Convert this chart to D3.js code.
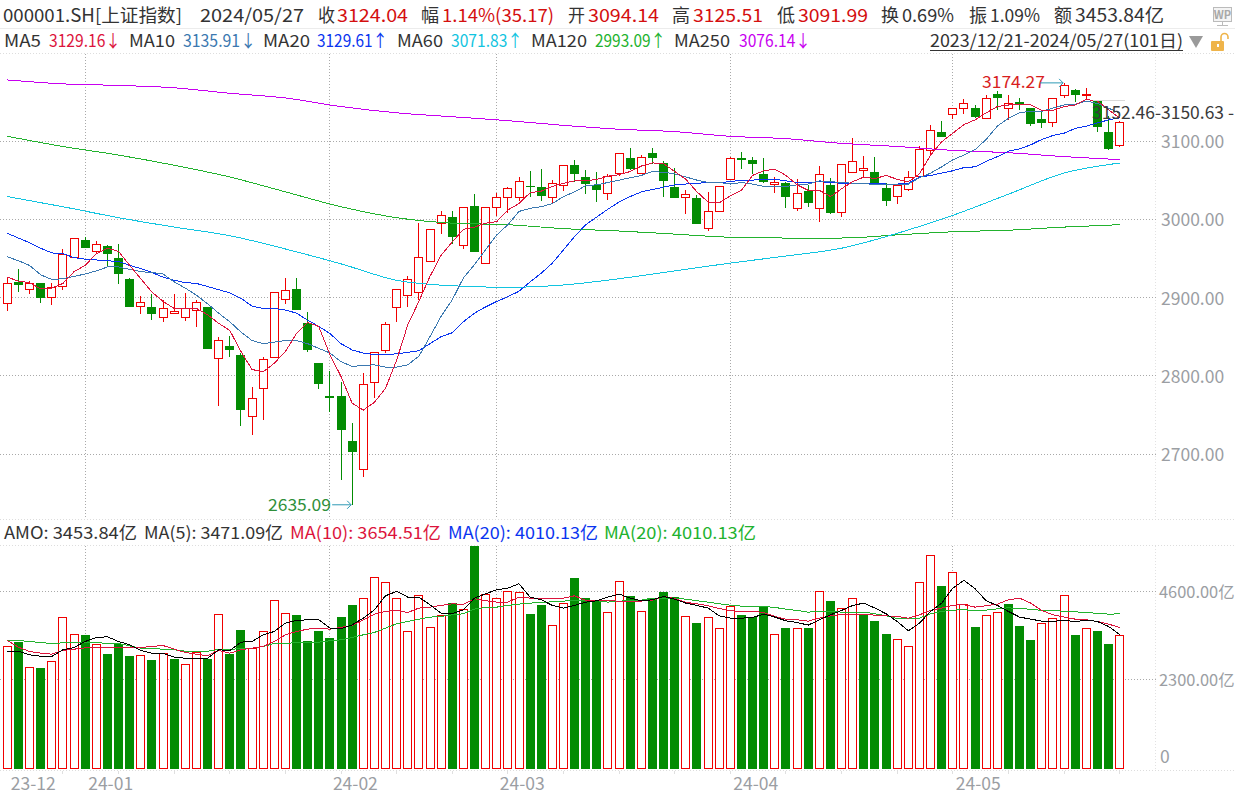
<!DOCTYPE html>
<html>
<head>
<meta charset="utf-8">
<script src="https://cdn.jsdelivr.net/npm/d3@7"></script>
<style>
html,body{margin:0;padding:0;background:#fff;overflow:hidden}
svg{display:block}
text{font-family:"Noto Sans CJK SC","Noto Sans",sans-serif}
</style>
</head>
<body>
<div id="canvas"></div>
<script>
// daily candles
var opens = [2894,2920,2911,2918,2901,2914,2952,2973,2959,2966,2950,2924,2889,2888,2875,2881,2875,2884,2888,2823,2838,2826,2748,2784,2824,2899,2911,2867,2816,2774,2774,2717,2681,2792,2833,2888,2904,2907,2947,2995,3003,2968,3017,2945,3015,3028,3028,3043,3041,3028,3044,3069,3054,3044,3033,3059,3078,3059,3085,3072,3041,3028,3027,2989,3010,3051,3078,3076,3058,3045,3046,3015,3036,3015,3044,3010,3061,3062,3060,3040,3030,3039,3056,3088,3112,3134,3142,3142,3130,3160,3141,3150,3142,3128,3124,3159,3165,3159,3151,3112,3094.14];
var highs = [2926,2936,2921,2918,2918,2962,2976,2977,2972,2967,2968,2925,2902,2904,2897,2904,2906,2897,2888,2849,2851,2829,2785,2824,2907,2925,2925,2881,2816,2806,2792,2740,2804,2830,2869,2911,2928,2995,2988,3011,3011,3016,3032,3016,3034,3041,3054,3062,3064,3050,3069,3076,3063,3060,3058,3085,3091,3082,3091,3074,3065,3037,3031,3035,3042,3079,3086,3079,3078,3054,3048,3051,3044,3068,3053,3071,3104,3081,3079,3046,3045,3062,3093,3121,3125,3142,3154,3146,3159,3164,3159,3155,3142,3139,3155,3174.27,3167,3168,3151,3132,3125.51];
var lows = [2883,2907,2904,2893,2891,2910,2951,2963,2955,2939,2917,2888,2879,2871,2869,2879,2870,2862,2834,2761,2824,2736,2724,2743,2823,2892,2884,2830,2783,2754,2667,2635.09,2671,2772,2829,2869,2888,2897,2945,2981,2969,2962,2958,2945,3004,3008,3023,3028,3023,3020,3036,3047,3032,3022,3025,3055,3063,3059,3071,3028,3027,3007,2994,2985,3010,3051,3064,3058,3046,3033,3014,3010,3016,2996,3007,3003,3059,3054,3045,3017,3019,3036,3056,3081,3105,3128,3135,3130,3130,3139,3127,3139,3119,3117,3118,3155,3150,3153,3112,3089,3091.99];
var closes = [2919,2916,2919,2899,2914,2955,2976,2963,2968,2956,2930,2888,2894,2879,2887,2883,2886,2894,2834,2846,2833,2756,2771,2821,2907,2910,2884,2832,2789,2772,2731,2703,2789,2830,2866,2911,2924,2952,2988,3005,2977,3016,2958,3016,3028,3040,3049,3042,3029,3046,3069,3057,3045,3038,3055,3085,3064,3080,3078,3049,3027,3032,2994,3011,3042,3078,3076,3071,3048,3048,3028,3034,3021,3058,3008,3071,3075,3065,3045,3023,3044,3054,3090,3114,3105,3142,3148,3130,3155,3155,3148,3148,3121,3123,3155,3172,3159,3160,3118,3090,3124.04];

// moving averages with a value for every day
var ma5 = [2926,2921,2919,2911,2912,2918,2933,2941,2956,2963,2959,2941,2924,2907,2895,2886,2886,2886,2878,2867,2858,2831,2808,2805,2816,2831,2854,2868,2863,2827,2799,2765,2756,2766,2784,2820,2865,2895,2927,2954,2971,2987,2990,2995,2997,3012,3020,3034,3036,3042,3046,3049,3049,3051,3055,3057,3061,3068,3072,3071,3061,3051,3035,3022,3021,3030,3037,3056,3062,3064,3056,3044,3037,3037,3029,3039,3048,3054,3052,3056,3051,3048,3058,3082,3099,3110,3121,3127,3136,3144,3146,3147,3146,3139,3139,3144,3146,3153,3151,3140,3129.16];
var ma10 = [2952,2947,2941,2929,2923,2924,2927,2930,2934,2939,2939,2936,2933,2932,2930,2920,2912,2903,2892,2880,2869,2856,2845,2841,2843,2845,2845,2841,2835,2829,2818,2812,2813,2814,2811,2811,2814,2825,2850,2876,2897,2925,2942,2961,2980,2993,3010,3014,3016,3020,3029,3035,3043,3044,3047,3050,3053,3056,3061,3060,3058,3054,3050,3047,3047,3045,3047,3045,3042,3042,3042,3044,3045,3049,3048,3047,3046,3046,3044,3044,3044,3045,3053,3059,3067,3076,3082,3089,3102,3119,3129,3136,3138,3138,3142,3146,3147,3151,3148,3142,3135.91];
var ma20 = [2982,2976,2970,2963,2957,2956,2951,2949,2948,2947,2946,2941,2937,2932,2926,2922,2919,2918,2914,2910,2906,2899,2889,2886,2886,2884,2880,2871,2863,2854,2841,2833,2829,2827,2827,2828,2830,2832,2841,2850,2855,2869,2880,2888,2895,2901,2908,2920,2931,2944,2961,2978,2993,3003,3013,3022,3029,3035,3038,3041,3044,3045,3046,3047,3047,3048,3050,3050,3051,3051,3049,3047,3047,3048,3047,3046,3046,3046,3046,3045,3045,3046,3054,3056,3059,3062,3066,3067,3074,3080,3087,3090,3095,3102,3107,3110,3116,3119,3123,3127,3129.61];

// slow averages, read every fifth day
var slowDays = [0,5,10,15,20,25,30,35,40,45,50,55,60,65,70,75,80,85,90,95,100];
var ma60 = [3029,3016,3002,2990,2979,2962,2943,2922,2915,2913,2916,2924,2934,2944,2953,2963,2982,3005,3032,3059,3071.83];
var ma120 = [3106,3093,3082,3069,3054,3035,3016,3002,2995,2993,2988,2985,2981,2977,2976,2976,2980,2984,2986,2990,2993.09];
var ma250 = [3178,3173,3171,3168,3161,3155,3144,3136,3131,3126,3120,3115,3112,3106,3103,3097,3093,3088,3085,3080,3076.14];

// turnover
var amo = [3168,3272,2628,2601,2776,3926,3481,3464,3220,2967,3237,2915,2933,2810,2985,2837,2697,3011,2837,4004,2976,3595,3115,3560,4370,4030,3987,3307,3569,3386,3935,4248,4422,4971,4841,4422,3560,4492,3664,3978,4292,4135,5790,4527,4413,4605,4579,4013,4248,3717,4292,4954,4431,4361,4056,4867,4483,4082,4405,4588,4448,3952,3777,3926,3638,4222,3987,3934,4204,3481,3647,3638,3647,4605,4353,4161,4422,3995,3830,3490,3351,3168,4840,5546,4745,5102,4265,3673,3978,4056,4274,3699,3333,3769,3899,4501,3464,3638,3568,3229,3453.84];
var amoRedDays = [0,2,4,5,6,8,12,14,16,17,19,22,23,24,25,32,33,34,35,36,37,38,39,41,43,44,45,46,49,50,54,55,57,61,63,64,65,69,71,73,75,76,80,81,82,83,85,86,88,89,93,94,95,97,100];
var amoMa5 = [3037,3037,2941,2906,2898,3072,3133,3290,3394,3412,3290,3203,3054,2985,2985,2880,2854,2854,2854,3072,3054,3272,3290,3464,3551,3769,3839,3856,3856,3638,3621,3725,3900,4118,4483,4597,4449,4448,4248,4030,4013,4117,4422,4536,4640,4684,4797,4448,4379,4231,4161,4231,4318,4353,4448,4527,4422,4353,4379,4466,4396,4292,4231,4161,3960,3899,3899,3917,4004,3926,3830,3786,3717,3856,3987,4100,4231,4292,4161,4013,3812,3568,3769,4074,4292,4684,4884,4666,4353,4231,4074,3926,3873,3821,3812,3847,3804,3847,3812,3682,3471.09];
var amoMa10 = [3316,3142,3028,2985,2959,3054,3089,3124,3142,3142,3142,3124,3133,3159,3185,3089,3002,2959,2915,3054,2985,3072,3115,3159,3290,3464,3551,3612,3638,3612,3656,3708,3856,4004,4074,4100,4048,4161,4187,4231,4274,4257,4405,4353,4318,4318,4448,4422,4422,4414,4422,4483,4361,4353,4353,4344,4344,4344,4370,4466,4414,4309,4274,4222,4152,4091,4074,4074,4048,3943,3873,3856,3821,3899,3960,3995,4004,3995,3978,3960,3943,3899,3987,4100,4161,4239,4248,4187,4222,4265,4379,4422,4292,4100,3987,3926,3873,3856,3812,3743,3654.51];
var amoMa20 = [3316,3316,3290,3264,3237,3255,3272,3272,3255,3246,3237,3176,3115,3107,3089,3072,3037,3037,3037,3081,3089,3098,3115,3159,3237,3237,3264,3264,3272,3307,3333,3394,3464,3525,3638,3752,3813,3873,3926,3943,3987,4013,4135,4178,4187,4231,4265,4292,4309,4326,4344,4361,4361,4353,4318,4344,4353,4370,4422,4422,4414,4396,4353,4318,4274,4239,4213,4204,4204,4178,4135,4100,4056,4074,4074,4056,4056,4056,4013,3960,3891,3891,3899,4013,4074,4109,4117,4100,4109,4143,4170,4143,4135,4100,4091,4082,4065,4039,4030,4004,4010.13];

// ticks
var priceTicks = [2700,2800,2900,3000,3100];
var amoTicks = [0,2300,4600];
var monthDays = [0,7,29,44,65,85];
var monthLabels = ['23-12','24-01','24-02','24-03','24-04','24-05'];

var red = '#f00000', green = '#038c03';

var w = 1235, h = 797, rightEdge = 1156;

var svg = d3.select('#canvas').append('svg').attr('width', w).attr('height', h);

var x = d3.scaleLinear().domain([0,100]).range([7.3,1119.7]);
var yPrice = d3.scaleLinear().domain([2700,3100]).range([454,141]);
var yAmo = d3.scaleLinear().domain([0,4600]).range([767.5,591.3]);

function px(v){ return Math.floor(v) + 0.5; }

//frame lines
function rule(x1,y1,x2,y2,color,dash){
    svg.append('line').attr('x1',x1).attr('y1',y1).attr('x2',x2).attr('y2',y2)
        .attr('stroke',color).attr('stroke-dasharray',dash).attr('shape-rendering','crispEdges');
}
rule(0,28.5,w,28.5,'#ececec');
rule(0,53.5,w,53.5,'#dddddd','1,2');
rule(0,519.5,w,519.5,'#dddddd','1,2');
rule(0,545.5,w,545.5,'#dddddd','1,2');
rule(0,770.5,w,770.5,'#dddddd','1,2');
rule(rightEdge-0.5,54,rightEdge-0.5,519,'#e2e2e2','1,2');
rule(rightEdge-0.5,546,rightEdge-0.5,770,'#e2e2e2','1,2');

//grid
var gridColor = '#a9a9a9';
priceTicks.forEach(function(d){ rule(0,px(yPrice(d)),rightEdge,px(yPrice(d)),gridColor,'1,2'); });
amoTicks.slice(1).forEach(function(d){ rule(0,px(yAmo(d)),rightEdge,px(yAmo(d)),gridColor,'1,2'); });
monthDays.slice(1).forEach(function(d){
    rule(px(x(d)),54,px(x(d)),519,gridColor,'1,2');
    rule(px(x(d)),546,px(x(d)),770,gridColor,'1,2');
});

//candles
var days = d3.range(opens.length);
var isUp = function(i){ return closes[i] >= opens[i]; };
var candles = svg.append('g').attr('shape-rendering','crispEdges');

var candle = candles.selectAll('.candle').data(days).enter().append('g').attr('class','candle');
candle.append('line')
    .attr('x1',function(i){ return px(x(i)); })
    .attr('x2',function(i){ return px(x(i)); })
    .attr('y1',function(i){ return yPrice(highs[i]); })
    .attr('y2',function(i){ return yPrice(lows[i]); })
    .attr('stroke',function(i){ return isUp(i) ? red : green; });
candle.append('rect')
    .attr('x',function(i){ return isUp(i) ? px(x(i)) - 4 : px(x(i)) - 4.5; })
    .attr('width',function(i){ return isUp(i) ? 8 : 9; })
    .attr('y',function(i){ return Math.round(yPrice(Math.max(opens[i],closes[i]))) + (isUp(i) ? 0.5 : 0); })
    .attr('height',function(i){ return Math.max(1, Math.round(Math.abs(yPrice(opens[i]) - yPrice(closes[i])))); })
    .attr('fill',function(i){ return isUp(i) ? '#fff' : green; })
    .attr('stroke',function(i){ return isUp(i) ? red : 'none'; });

//moving averages
var fullLine = d3.line().x(function(d,i){ return x(i); }).y(function(d){ return yPrice(d); });
var slowLine = d3.line().curve(d3.curveMonotoneX).x(function(d,i){ return x(slowDays[i]); }).y(function(d){ return yPrice(d); });
var amoLine = d3.line().x(function(d,i){ return x(i); }).y(function(d){ return yAmo(d); });

function drawLine(values,gen,color){
    svg.append('path').datum(values).attr('d',gen)
        .attr('fill','none').attr('stroke',color).attr('stroke-width',1)
        .attr('shape-rendering','crispEdges');
}
drawLine(ma250,slowLine,'#c800f0');
drawLine(ma120,slowLine,'#22b22e');
drawLine(ma60,slowLine,'#12c4e0');
drawLine(ma20,fullLine,'#0a35f0');
drawLine(ma10,fullLine,'#3b78b0');
drawLine(ma5,fullLine,'#dc143c');

//turnover bars
var isRed = function(i){ return amoRedDays.indexOf(i) >= 0; };
svg.append('g').attr('shape-rendering','crispEdges')
    .selectAll('rect').data(days).enter().append('rect')
    .attr('x',function(i){ return isRed(i) ? px(x(i)) - 4 : px(x(i)) - 4.5; })
    .attr('width',function(i){ return isRed(i) ? 8 : 9; })
    .attr('y',function(i){ return Math.round(yAmo(amo[i])) + (isRed(i) ? 0.5 : 0); })
    .attr('height',function(i){ return Math.round(yAmo(0)) - Math.round(yAmo(amo[i])) + (isRed(i) ? 0 : 0.5); })
    .attr('fill',function(i){ return isRed(i) ? '#fff' : green; })
    .attr('stroke',function(i){ return isRed(i) ? red : 'none'; });

drawLine(amoMa20,amoLine,'#22b22e');
drawLine(amoMa10,amoLine,'#dc143c');
drawLine(amoMa5,amoLine,'#000000');

//axes
var axisColor = '#9b9ea3';
function styleAxis(g){
    g.select('.domain').remove();
    g.selectAll('text').attr('fill',axisColor).attr('font-size',17.5)
        .style('font-family','"Noto Sans CJK SC"');
    g.selectAll('line').remove();
}
svg.append('g').attr('transform','translate(1161,1)')
    .call(d3.axisRight(yPrice).tickValues(priceTicks).tickSize(0).tickPadding(0).tickFormat(function(d){ return d.toFixed(2); }))
    .call(styleAxis);
var amoAxis = svg.append('g').attr('transform','translate(1159,1)')
    .call(d3.axisRight(yAmo).tickValues(amoTicks).tickSize(0).tickPadding(0).tickFormat(function(d){ return d === 0 ? '0' : d.toFixed(2) + '亿'; }))
    .call(styleAxis);
amoAxis.selectAll('.tick').filter(function(d){ return d === 0; }).attr('transform','translate(1,756)');
amoAxis.selectAll('.tick').filter(function(d){ return d > 0; }).select('text')
    .attr('font-size',16.4);
svg.append('g').attr('transform','translate(0,770)')
    .call(d3.axisBottom(x).tickValues(monthDays).tickSize(0).tickPadding(8).tickFormat(function(d,i){ return monthLabels[i]; }))
    .call(styleAxis)
    .selectAll('text').attr('text-anchor','start').attr('dx',function(d){ return d === 0 ? 3 : 2.5; });

//axis ticks on the time line, one every five days or so
svg.append('g').attr('shape-rendering','crispEdges')
    .selectAll('line').data(d3.range(5,101,5)).enter().append('line')
    .attr('x1',function(d){ return px(x(d)); }).attr('x2',function(d){ return px(x(d)); })
    .attr('y1',771).attr('y2',774).attr('stroke','#e0e0e0');

//header text
var dark = '#333333', textRed = '#d40f0f';
function label(t,x0,x1,y,color,size){
    return svg.append('text').text(t).attr('x',x0).attr('y',y)
        .attr('fill',color).attr('font-size',size || 18)
        .attr('textLength',x1 - x0).attr('lengthAdjust','spacingAndGlyphs');
}

var row1 = [
    ['000001.SH[上证指数]',3,182,dark],['2024/05/27',200,304,dark],['收',318,335,dark],['3124.04',337,408,textRed],
    ['幅',421,439,dark],['1.14%(35.17)',442,554,textRed],['开',568,585,dark],['3094.14',588,659,textRed],
    ['高',672,690,dark],['3125.51',693,763,textRed],['低',777,795,dark],['3091.99',798,868,textRed],
    ['换',881,899,dark],['0.69%',902,954,dark],['振',969,987,dark],['1.09%',990,1040,dark],
    ['额',1054,1072,dark],['3453.84亿',1075,1164,dark]
];
row1.forEach(function(d){ label(d[0],d[1],d[2],22,d[3]); });

var row2 = [
    ['MA5',4,41,dark],['3129.16↓',49,121,'#dc143c'],['MA10',129,175,dark],['3135.91↓',183,256,'#3b78b0'],
    ['MA20',263,310,dark],['3129.61↑',317,388,'#0a35f0'],['MA60',397,443,dark],['3071.83↑',451,523,'#12c4e0'],
    ['MA120',531,587,dark],['2993.09↑',595,666,'#22b22e'],['MA250',674,730,dark],['3076.14↓',739,811,'#c800f0']
];
row2.forEach(function(d){ label(d[0],d[1],d[2],47,d[3],17); });

label('2023/12/21-2024/05/27(101日)',930,1183,47,dark,17);
rule(930,50.5,1183,50.5,dark);

var row3 = [
    ['AMO: 3453.84亿',4,137,dark],['MA(5): 3471.09亿',144,283,dark],['MA(10): 3654.51亿',290,441,'#dc143c'],
    ['MA(20): 4010.13亿',448,598,'#0a35f0'],['MA(20): 4010.13亿',604,756,'#22b22e']
];
row3.forEach(function(d){ label(d[0],d[1],d[2],539,d[3],17); });

//high and low marks
var hiX = x(95), hiY = yPrice(3174.27), loX = x(31), loY = yPrice(2635.09);
label('3174.27',982,1045,hiY + 5,'#d81e1e',17);
label('2635.09',268,331,loY + 6,'#2f8f3a',17);
var arrowColor = '#2e9ab5';
[[hiX - 24,hiX - 1,hiY],[loX - 20,loX - 1,loY]].forEach(function(a){
    svg.append('path').attr('fill','none').attr('stroke',arrowColor)
        .attr('d','M' + a[0] + ',' + a[2] + 'H' + a[1] + 'M' + (a[1] - 4) + ',' + (a[2] - 4) + 'L' + a[1] + ',' + a[2] + 'L' + (a[1] - 4) + ',' + (a[2] + 4));
});

//the interval readout at the right of the last candle
rule(1093,100.5,1125,100.5,'#d9d9d9');
svg.append('text').text('3152.46-3150.63 -').attr('x',1092).attr('y',119).attr('fill','#3a3a3a')
    .attr('font-size',17.5).attr('textLength',142).attr('lengthAdjust','spacingAndGlyphs');

//icons
svg.append('path').attr('d','M1189,36H1203L1196,48Z').attr('fill','#9a9a9a');
svg.append('rect').attr('x',1211).attr('y',41).attr('width',13).attr('height',10).attr('rx',1).attr('fill','#efb44a');
svg.append('path').attr('d','M1221,41V37A3.5,3.5 0 0 1 1228,37V39').attr('fill','none').attr('stroke','#efb44a').attr('stroke-width',1.6);
svg.append('rect').attr('x',1217).attr('y',44).attr('width',2).attr('height',3).attr('fill','#fff');
svg.append('rect').attr('x',1213.5).attr('y',7.5).attr('width',18).attr('height',14).attr('fill','#f4f4f4').attr('stroke','#bbbbbb');
svg.append('text').text('WP').attr('x',1222.5).attr('y',19).attr('text-anchor','middle').attr('font-size',11).attr('font-weight','bold').attr('fill','#a8a8a8');
svg.append('path').attr('d','M1222.5,22V25M1217,25.5H1228').attr('stroke','#bbbbbb').attr('fill','none');
</script>
</body>
</html>
